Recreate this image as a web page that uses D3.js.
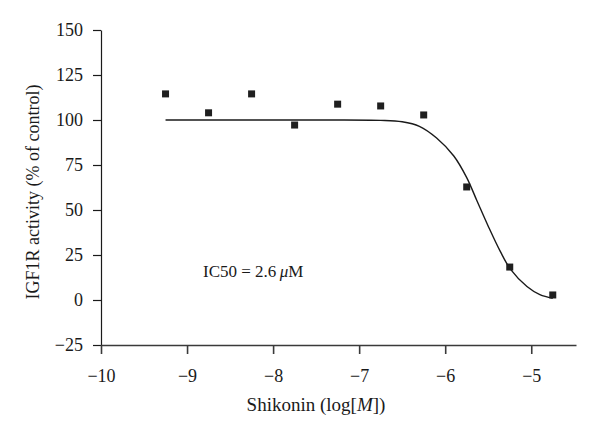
<html>
  <head>
    <meta charset="utf-8">
    <style>
      body { margin: 0; background: #fff; }
      svg text { font-family: "Liberation Serif", "DejaVu Serif", serif; fill: #1a1a1a; }
    </style>
  </head>
  <body>
    <script src="https://d3js.org/d3.v7.min.js"></script>
    <script>
    var width = 600, height = 438;

    // measured points: log concentration and activity (% of control)
    var logConc = [-9.25, -8.75, -8.25, -7.75, -7.25, -6.75, -6.25, -5.75, -5.25, -4.75];
    var activity = [114.5, 104, 114.5, 97.2, 108.8, 107.8, 102.8, 62.8, 18.3, 2.8];

    // fitted curve
    var fitX = [-9.25, -7.5, -6.75, -6.5, -6.3, -6.1, -5.9, -5.75, -5.63, -5.5, -5.36, -5.24, -5.05, -4.9, -4.75];
    var fitY = [100, 100, 99.8, 99, 96.5, 90, 80, 68, 55, 41, 27, 17, 7.5, 3, 1];

    var xTicks = [-10, -9, -8, -7, -6, -5];
    var yTicks = [-25, 0, 25, 50, 75, 100, 125, 150];

    var svg = d3.select("body")
        .append("svg")
        .attr("width", width)
        .attr("height", height);

    var x = d3.scaleLinear().domain([-10, -4.48]).range([101, 576]);
    var y = d3.scaleLinear().domain([-25, 150]).range([345, 30]);
    var fmt = d3.format("d");

    // axes
    var yAxis = svg.append("g")
        .attr("transform", "translate(101,0)")
        .call(d3.axisLeft(y).tickValues(yTicks).tickFormat(fmt).tickSize(8).tickSizeOuter(0).tickPadding(10));
    yAxis.selectAll("line, path").attr("stroke", "#1a1a1a").attr("stroke-width", 1.2);

    var xAxis = svg.append("g")
        .attr("transform", "translate(0,345)")
        .call(d3.axisBottom(x).tickValues(xTicks).tickFormat(fmt).tickSize(9).tickSizeOuter(0).tickPadding(15));
    xAxis.selectAll("line, path").attr("stroke", "#3a3a3a").attr("stroke-width", 1.6);

    svg.selectAll(".tick text")
       .style("font-family", "'Liberation Serif', 'DejaVu Serif', serif")
       .style("font-size", "18px");

    // axis titles
    svg.append("text")
       .attr("transform", "translate(39,192) rotate(-90)")
       .style("text-anchor", "middle")
       .style("font-size", "18px")
       .text("IGF1R activity (% of control)");

    var xl = svg.append("text")
       .attr("x", 316)
       .attr("y", 411)
       .style("text-anchor", "middle")
       .style("font-size", "19px");
    xl.append("tspan").text("Shikonin (log[");
    xl.append("tspan").style("font-style", "italic").text("M");
    xl.append("tspan").text("])");

    // fitted curve
    var line = d3.line()
        .x(function(d, i){ return x(fitX[i]); })
        .y(function(d){ return y(d); })
        .curve(d3.curveCatmullRom.alpha(0.5));

    svg.append("path")
       .datum(fitY)
       .attr("fill", "none")
       .attr("stroke", "#1a1a1a")
       .attr("stroke-width", 1.4)
       .attr("d", line);

    // data points
    svg.append("g")
      .selectAll("rect")
      .data(activity)
      .enter().append("rect")
        .attr("x", function(d, i){ return x(logConc[i]) - 3.5; })
        .attr("y", function(d){ return y(d) - 3.5; })
        .attr("width", 7)
        .attr("height", 7)
        .attr("fill", "#1f1f1f");

    // IC50 note
    var note = svg.append("text")
       .attr("x", 203)
       .attr("y", 277)
       .style("font-size", "17px");
    note.append("tspan").text("IC50 = 2.6\u2009");
    note.append("tspan").style("font-style", "italic").text("\u03bc");
    note.append("tspan").text("M");
    </script>
  </body>
</html>
